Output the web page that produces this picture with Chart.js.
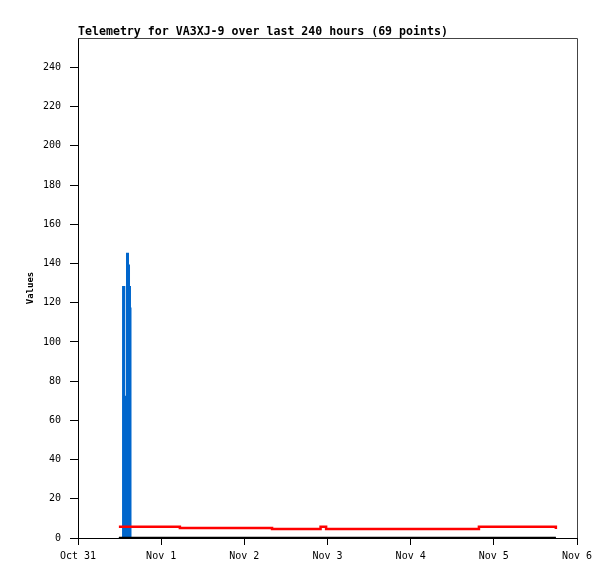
<!DOCTYPE html>
<html>
<head>
<meta charset="utf-8">
<script src="https://cdn.jsdelivr.net/npm/chart.js@4/dist/chart.umd.min.js"></script>
<style>
  html, body { margin: 0; padding: 0; background: #fff; }
  canvas { display: block; }
</style>
</head>
<body>
<canvas id="telemetryChart" width="615" height="579"></canvas>
<script>
// hours since Oct 31 00:00
const spikeHours  = [11.8, 13.0, 13.36, 13.77, 14.14, 14.43, 14.72, 15.0, 15.15, 137.9];
const spikeValues = [0, 128, 64, 72, 145, 139, 128, 117, 0, 0];

const redHours  = [11.8, 29.4, 56.0, 70.0, 71.6, 115.7, 137.9];
const redValues = [5.7, 5.1, 4.6, 5.7, 4.6, 5.7, 4.6];

const zeroHours  = [11.8, 137.9];
const zeroValues = [0, 0];

const xTickHours  = [0, 24, 48, 72, 96, 120, 144];
const xTickLabels = ['Oct 31', 'Nov 1', 'Nov 2', 'Nov 3', 'Nov 4', 'Nov 5', 'Nov 6'];
const yTickValues = [0, 20, 40, 60, 80, 100, 120, 140, 160, 180, 200, 220, 240];

const titleText = 'Telemetry for VA3XJ-9 over last 240 hours (69 points)';
const MONO = '"DejaVu Sans Mono", "Liberation Mono", monospace';

function toPoints(xs, ys) {
  return xs.map((x, i) => ({x: x, y: ys[i]}));
}

// title at the left edge of the plot, and the grey top/right frame
const framePlugin = {
  id: 'frame',
  beforeDatasetsDraw(chart) {
    const {ctx, chartArea} = chart;
    ctx.save();
    ctx.strokeStyle = '#444';
    ctx.lineWidth = 1;
    ctx.beginPath();
    ctx.moveTo(chartArea.left, chartArea.top + 0.5);
    ctx.lineTo(chartArea.right + 0.5, chartArea.top + 0.5);
    ctx.lineTo(chartArea.right + 0.5, chartArea.bottom);
    ctx.stroke();
    ctx.restore();
  },
  afterDraw(chart) {
    const {ctx, chartArea} = chart;
    ctx.save();
    ctx.fillStyle = '#000';
    ctx.font = 'bold 11.6px ' + MONO;
    ctx.textAlign = 'left';
    ctx.textBaseline = 'alphabetic';
    ctx.fillText(titleText, chartArea.left, 35);
    ctx.restore();
  }
};

Chart.defaults.color = '#000';
Chart.defaults.font.family = MONO;

new Chart(document.getElementById('telemetryChart').getContext('2d'), {
  type: 'line',
  data: {
    datasets: [
      {
        label: 'zero',
        data: toPoints(zeroHours, zeroValues),
        borderColor: '#000',
        borderWidth: 2.5,
        pointRadius: 0,
        stepped: true,
        fill: false
      },
      {
        label: 'red',
        data: toPoints(redHours, redValues),
        borderColor: '#ff0000',
        borderWidth: 2.5,
        pointRadius: 0,
        stepped: true,
        fill: false
      },
      {
        label: 'blue',
        data: toPoints(spikeHours, spikeValues),
        borderColor: '#0066cc',
        backgroundColor: '#0066cc',
        borderWidth: 2,
        pointRadius: 0,
        stepped: true,
        fill: 'origin'
      }
    ]
  },
  options: {
    responsive: false,
    animation: false,
    layout: { padding: { top: 38, right: 38, left: 0, bottom: 0 } },
    plugins: {
      legend: { display: false },
      tooltip: { enabled: false },
      title: { display: false }
    },
    scales: {
      x: {
        type: 'linear',
        min: 0,
        max: 144,
        afterBuildTicks: scale => { scale.ticks = xTickHours.map(v => ({value: v})); },
        afterFit: scale => { scale.height = 41; },
        ticks: {
          autoSkip: false,
          maxRotation: 0,
          padding: 5,
          font: { size: 10 },
          callback: value => xTickLabels[xTickHours.indexOf(value)]
        },
        grid: { drawOnChartArea: false, tickLength: 7, tickColor: '#000' },
        border: { color: '#000', width: 1 }
      },
      y: {
        type: 'linear',
        min: 0,
        max: 255,
        afterBuildTicks: scale => { scale.ticks = yTickValues.map(v => ({value: v})); },
        afterFit: scale => { scale.width = 78; },
        ticks: { padding: 9, font: { size: 10 } },
        grid: { drawOnChartArea: false, tickLength: 8, tickColor: '#000' },
        border: { color: '#000', width: 1 },
        title: {
          display: true,
          text: 'Values',
          font: { size: 9, weight: 'bold' },
          padding: { top: 25, bottom: 0 }
        }
      }
    }
  },
  plugins: [framePlugin]
});
</script>
</body>
</html>
